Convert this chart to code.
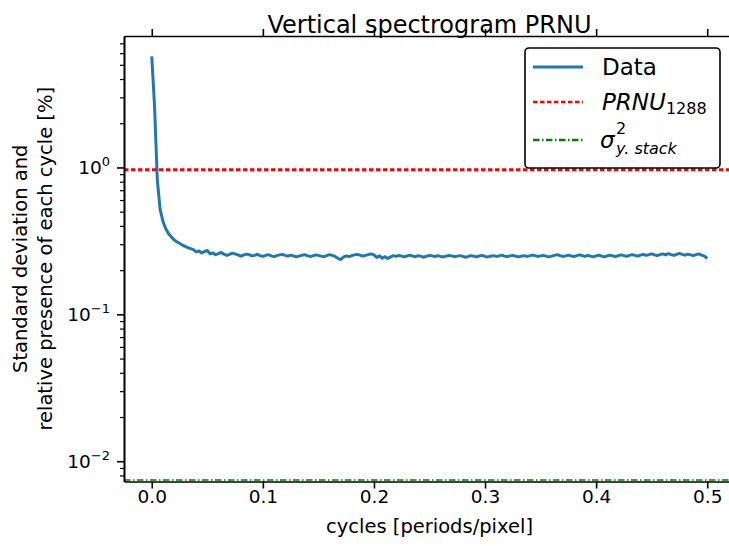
<html lang="en">
  <head>
    <meta charset="UTF-8" />
    <title>Vertical spectrogram PRNU</title>
    <script src="https://d3js.org/d3.v7.min.js"></script>
    <style>
      * {
        margin: 0;
        padding: 0;
      }
      body {
        background: #fff;
        overflow: hidden;
      }
      text {
        font-family: "DejaVu Sans", sans-serif;
        fill: #000;
      }
    </style>
  </head>

  <body>
    <div id="chart"></div>
    <script>
      // spectrum sampled every 0.0025 cycles, from 0 to 0.5
      const freqStep = 0.0025;
      const spectrum = [
        5.7, 2.6, 0.82, 0.52, 0.43, 0.385, 0.355, 0.338, 0.322, 0.312, 0.305,
        0.296, 0.29, 0.284, 0.28, 0.276, 0.266, 0.27, 0.262, 0.268, 0.272,
        0.258, 0.262, 0.255, 0.259, 0.264, 0.257, 0.252, 0.256, 0.261, 0.258,
        0.254, 0.249, 0.253, 0.257, 0.255, 0.25, 0.252, 0.256, 0.251, 0.248,
        0.252, 0.255, 0.25, 0.247, 0.251, 0.254, 0.256, 0.252, 0.249, 0.253,
        0.25, 0.246, 0.249, 0.252, 0.255, 0.251, 0.248, 0.25, 0.254, 0.252,
        0.249, 0.247, 0.251, 0.255, 0.252, 0.248, 0.241, 0.236, 0.245, 0.25,
        0.247, 0.251, 0.254, 0.256, 0.253, 0.249, 0.252, 0.255, 0.258, 0.254,
        0.244, 0.25, 0.241, 0.247, 0.24, 0.246, 0.251, 0.248, 0.252, 0.249,
        0.246, 0.25, 0.253, 0.249, 0.247, 0.251, 0.248, 0.245, 0.249, 0.252,
        0.25, 0.247, 0.251, 0.248, 0.246, 0.249, 0.252, 0.25, 0.247, 0.249,
        0.251, 0.248, 0.245, 0.248, 0.251, 0.249, 0.246, 0.25, 0.252, 0.248,
        0.246, 0.249, 0.251, 0.248, 0.25, 0.253, 0.249, 0.247, 0.25, 0.252,
        0.249, 0.246, 0.249, 0.251, 0.248, 0.25, 0.253, 0.251, 0.248, 0.25,
        0.252, 0.249, 0.246, 0.249, 0.252, 0.255, 0.251, 0.248, 0.25, 0.253,
        0.25, 0.247, 0.251, 0.254, 0.251, 0.248, 0.252, 0.249, 0.246, 0.25,
        0.253, 0.249, 0.246, 0.25, 0.253, 0.25, 0.247, 0.251, 0.254, 0.251,
        0.248, 0.252, 0.255, 0.252, 0.249, 0.253, 0.256, 0.252, 0.255, 0.258,
        0.254, 0.251, 0.255, 0.258, 0.254, 0.259, 0.255, 0.252, 0.256, 0.26,
        0.256, 0.253, 0.257, 0.254, 0.251, 0.255, 0.258, 0.253, 0.249, 0.24,
      ];
      const prnu1288 = 0.965;
      const sigmaStack = 0.0073;

      const xTicks = [0, 0.1, 0.2, 0.3, 0.4, 0.5];
      const yMajor = [1e-2, 1e-1, 1e0];
      const yExponents = ["\u22122", "\u22121", "0"];
      const legendLabels = ["Data", "PRNU", "\u03c3"];

      const width = 729;
      const height = 546;

      const svg = d3
        .select("#chart")
        .append("svg")
        .attr("width", width)
        .attr("height", height);

      const box = { left: 124, right: 735, top: 36, bottom: 481.5 };

      const x = d3
        .scaleLinear()
        .domain([-0.025, 0.525])
        .range([box.left, box.right]);

      const y = d3
        .scaleLog()
        .domain([Math.pow(10, -2.138), Math.pow(10, 0.895)])
        .range([box.bottom, box.top]);

      // minor log ticks 2..9 per decade
      let yMinor = [];
      [1e-3, 1e-2, 1e-1, 1e0].forEach((dec) => {
        for (let k = 2; k <= 9; k++) yMinor.push(dec * k);
      });
      yMinor = yMinor.filter((v) => v > y.domain()[0] && v < y.domain()[1]);

      svg
        .append("clipPath")
        .attr("id", "plotclip")
        .append("rect")
        .attr("x", box.left)
        .attr("y", box.top)
        .attr("width", box.right - box.left)
        .attr("height", box.bottom - box.top);

      const plot = svg.append("g").attr("clip-path", "url(#plotclip)");

      // sigma line, sits on the bottom spine
      plot
        .append("line")
        .attr("x1", box.left)
        .attr("x2", box.right)
        .attr("y1", y(sigmaStack) - 1.3)
        .attr("y2", y(sigmaStack) - 1.3)
        .attr("stroke", "#008000")
        .attr("stroke-width", 1.6)
        .attr("stroke-dasharray", "6.5,2.5,1.5,2.5");

      // data line
      const line = d3
        .line()
        .x((d, i) => x(i * freqStep))
        .y((d) => y(d));

      plot
        .append("path")
        .datum(spectrum)
        .attr("d", line)
        .attr("fill", "none")
        .attr("stroke", "#1f77b4")
        .attr("stroke-width", 3)
        .attr("stroke-linejoin", "round");

      // PRNU reference
      plot
        .append("line")
        .attr("x1", box.left)
        .attr("x2", box.right)
        .attr("y1", y(prnu1288))
        .attr("y2", y(prnu1288))
        .attr("stroke", "#ff0000")
        .attr("stroke-width", 3)
        .attr("stroke-dasharray", "4.5,2.5");

      // axes
      const axisStyle = (g) => {
        g.selectAll("path.domain").attr("stroke", "#000").attr("stroke-width", 1.6);
        g.selectAll(".tick line").attr("stroke", "#000").attr("stroke-width", 1.6);
      };

      svg
        .append("g")
        .attr("transform", `translate(0,${box.bottom})`)
        .call(
          d3
            .axisBottom(x)
            .tickValues(xTicks)
            .tickSize(7)
            .tickSizeOuter(0)
            .tickPadding(1)
            .tickFormat(d3.format(".1f"))
        )
        .call(axisStyle)
        .call((g) =>
          g
            .selectAll("text")
            .attr("font-size", 18.5)
            .attr("font-family", "DejaVu Sans")
            .attr("fill", "#000")
        );

      svg
        .append("g")
        .attr("transform", `translate(0,${box.top})`)
        .call(
          d3
            .axisTop(x)
            .tickValues(xTicks)
            .tickSize(7)
            .tickSizeOuter(0)
            .tickFormat("")
        )
        .call(axisStyle);

      svg
        .append("g")
        .attr("transform", `translate(${box.left},0)`)
        .call(
          d3
            .axisLeft(y)
            .tickValues(yMinor)
            .tickSize(4)
            .tickSizeOuter(0)
            .tickFormat("")
        )
        .call(axisStyle)
        .call((g) => g.selectAll(".tick line").attr("stroke-width", 1.2));

      svg
        .append("g")
        .attr("transform", `translate(${box.left},0)`)
        .call(
          d3
            .axisLeft(y)
            .tickValues(yMajor)
            .tickSize(7)
            .tickSizeOuter(0)
            .tickFormat("")
        )
        .call(axisStyle);

      yMajor.forEach((v, i) => {
        const t = svg
          .append("text")
          .attr("x", 110)
          .attr("y", y(v) + 7)
          .attr("text-anchor", "end")
          .attr("font-size", 18.5);
        t.append("tspan").text("10");
        t.append("tspan")
          .attr("font-size", 13)
          .attr("dy", -8.5)
          .text(yExponents[i]);
      });

      // right spine (falls outside the picture)
      svg
        .append("line")
        .attr("x1", box.right)
        .attr("x2", box.right)
        .attr("y1", box.top)
        .attr("y2", box.bottom)
        .attr("stroke", "#000")
        .attr("stroke-width", 1.6);

      // title and labels
      const cx = (box.left + box.right) / 2;
      svg
        .append("text")
        .attr("x", cx)
        .attr("y", 33)
        .attr("text-anchor", "middle")
        .attr("font-size", 24)
        .text("Vertical spectrogram PRNU");

      svg
        .append("text")
        .attr("x", cx)
        .attr("y", 533)
        .attr("text-anchor", "middle")
        .attr("font-size", 19.5)
        .text("cycles [periods/pixel]");

      const cy = (box.top + box.bottom) / 2;
      const ylab = svg
        .append("text")
        .attr("transform", `translate(27,${cy}) rotate(-90)`)
        .attr("text-anchor", "middle")
        .attr("font-size", 19.5);
      ylab.append("tspan").attr("x", 0).attr("y", 0).text("Standard deviation and");
      ylab
        .append("tspan")
        .attr("x", 0)
        .attr("y", 24.5)
        .text("relative presence of each cycle [%]");

      // legend
      const legend = svg.append("g");
      legend
        .append("rect")
        .attr("x", 525)
        .attr("y", 48)
        .attr("width", 195)
        .attr("height", 120)
        .attr("rx", 4)
        .attr("fill", "#fff")
        .attr("stroke", "#000")
        .attr("stroke-width", 1.6);

      const rows = [
        { y: 67, color: "#1f77b4", dash: null },
        { y: 102, color: "#ff0000", dash: "4.5,2.5" },
        { y: 140, color: "#008000", dash: "6.5,2.5,1.5,2.5" },
      ];
      rows.forEach((r) => {
        legend
          .append("line")
          .attr("x1", 533)
          .attr("x2", 583)
          .attr("y1", r.y)
          .attr("y2", r.y)
          .attr("stroke", r.color)
          .attr("stroke-width", r.dash ? 2.5 : 3)
          .attr("stroke-dasharray", r.dash);
      });

      legend
        .append("text")
        .attr("x", 602)
        .attr("y", 75)
        .attr("font-size", 23)
        .text(legendLabels[0]);

      const prnuText = legend
        .append("text")
        .attr("x", 602)
        .attr("y", 109.5)
        .attr("font-size", 23);
      prnuText.append("tspan").attr("font-style", "italic").text(legendLabels[1]);
      prnuText.append("tspan").attr("font-size", 16).attr("dy", 4).text("1288");

      legend
        .append("text")
        .attr("x", 600)
        .attr("y", 148)
        .attr("font-size", 23)
        .attr("font-style", "italic")
        .text(legendLabels[2]);
      legend
        .append("text")
        .attr("x", 616)
        .attr("y", 134)
        .attr("font-size", 16)
        .text("2");
      legend
        .append("text")
        .attr("x", 616)
        .attr("y", 154)
        .attr("font-size", 16)
        .attr("font-style", "italic")
        .text("y. stack");
    </script>
  </body>
</html>
